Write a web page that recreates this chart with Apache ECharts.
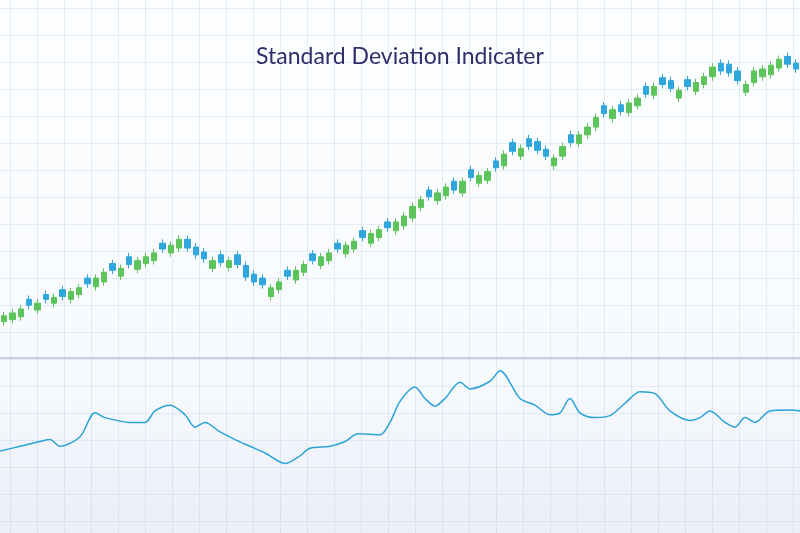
<!DOCTYPE html><html><head><meta charset="utf-8">
<script src="https://cdn.jsdelivr.net/npm/echarts@6/dist/echarts.min.js"></script>
<style>html,body{margin:0;padding:0}
#c{width:800px;height:533px;background:
linear-gradient(rgba(170,195,225,0.28) 1px,transparent 1px) 0 8px/27px 27px,
linear-gradient(90deg,rgba(170,195,225,0.28) 1px,transparent 1px) 10px 0/27px 27px,
linear-gradient(#fdfeff 0%,#f7fafd 70%,#eceef8 100%);}</style></head><body><div id="c"></div>
<script>
const closes=[75,78,82,86,88,92,94,95,100,104,108,114,120,122,124,128,132,136,140,144,148,154,145,138,134,132,130,132,128,115,110,107,104,110,116,122,128,132,136,140,144,148,152,156,160,164,166,172,178,188,195,198,202,208,205,214,218,220,224,228,242,245,248,250,246,240,238,250,254,262,270,280,284,288,286,295,300,304,312,314,310,308,312,316,322,332,328,326,318,314,328,330,334,340,335,330];
const bodies=[6,7,8,-6,7,-5,6,-7,8,7,-6,9,10,-7,8,-8,9,7,8,-6,8,9,-9,-8,-7,8,-8,7,-10,-12,-8,-7,9,8,-6,10,8,-7,9,8,-6,9,8,-7,10,8,-6,9,10,12,8,-7,8,9,-9,12,-8,8,9,-7,12,-9,8,-8,-9,-7,8,10,-8,9,8,10,-8,9,-7,10,8,-8,9,-7,-8,8,-7,9,8,10,-8,-9,-10,8,12,8,10,9,-8,-6];
const stdX=[0,20,40,50,60,80,95,105,130,145,155,170,185,195,205,220,235,250,265,285,300,310,330,345,358,380,390,400,415,425,435,445,460,470,490,500,520,535,550,560,570,580,595,610,625,640,655,670,690,700,710,725,735,745,755,770,790,800];
const stdY=[450,445,440,438,445,435,410,415,420,420,408,402,412,425,420,430,438,445,452,463,455,447,445,440,432,433,420,398,383,395,403,395,378,385,377,366,395,402,412,410,395,410,415,413,400,388,390,408,418,415,408,420,425,415,420,408,407,408];
const cats=closes.map((_,i)=>i);
const kdata=closes.map((c,i)=>{const o=c-bodies[i];return [o,c,Math.min(o,c)-4,Math.max(o,c)+4];});
const std=stdX.map((x,i)=>[x,533-stdY[i]]);
const ch=echarts.init(document.getElementById('c'));
ch.setOption({
title:{text:'Standard Deviation Indicater',left:'center',top:40,textStyle:{fontFamily:'Lato',fontWeight:'normal',fontSize:23,color:'#2d2f6b'}},
grid:[{left:0,right:0,top:40,height:300},{left:0,right:0,top:365,height:110}],
xAxis:[{type:'category',data:cats,gridIndex:0,show:false,boundaryGap:true},
{type:'value',min:0,max:800,gridIndex:1,show:false}],
yAxis:[{type:'value',min:50,max:360,gridIndex:0,show:false},
{type:'value',min:58,max:173,gridIndex:1,show:false}],
graphic:[{type:'line',shape:{x1:0,y1:358,x2:800,y2:358},style:{stroke:'#c9cbe6',lineWidth:2}}],
series:[{type:'candlestick',data:kdata,barWidth:6,itemStyle:{color:'#5cc45a',color0:'#2fa6dc',borderColor:'#5cc45a',borderColor0:'#2fa6dc'}},
{type:'line',xAxisIndex:1,yAxisIndex:1,data:std,smooth:0.3,symbol:'none',lineStyle:{color:'#2aa3d6',width:1.5}}]
});
</script></body></html>
